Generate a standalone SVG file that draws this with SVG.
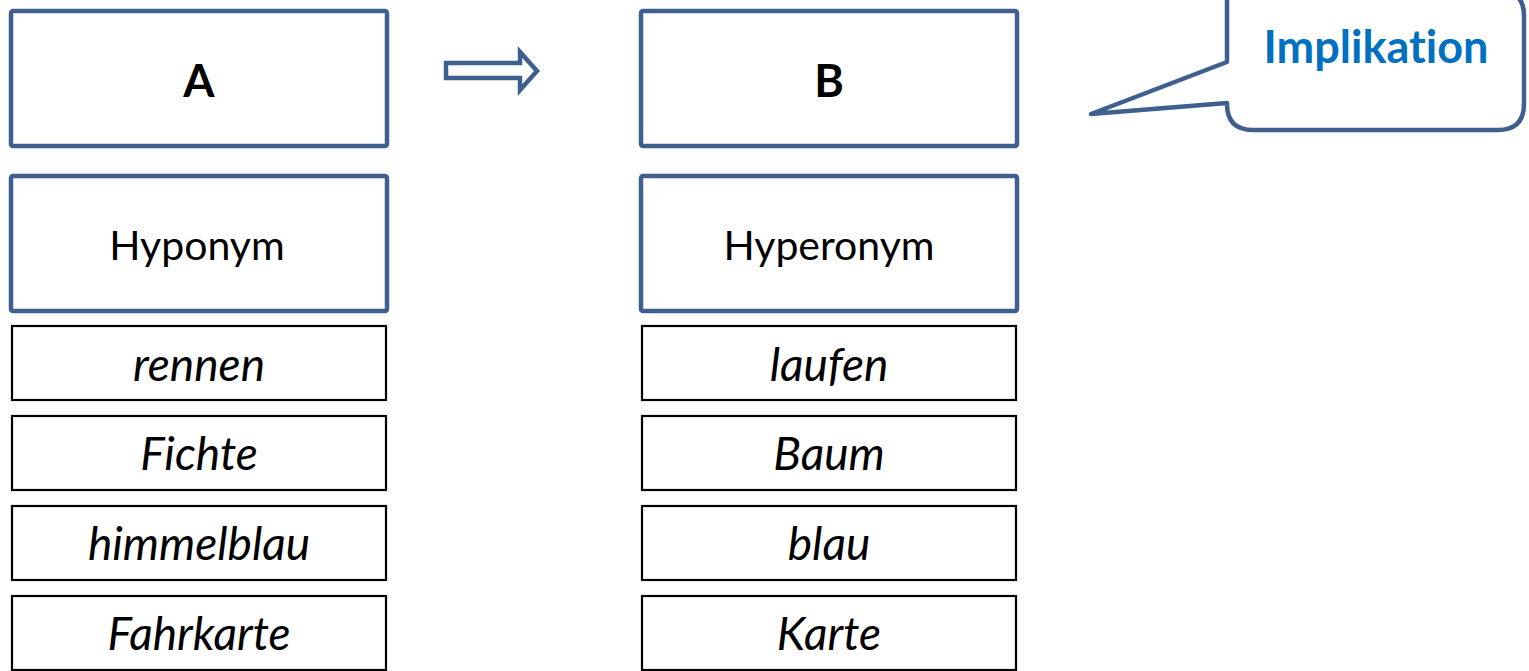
<svg xmlns="http://www.w3.org/2000/svg" width="1529" height="671" viewBox="0 0 1529 671">
  <style>
    .head { fill: #ffffff; stroke: #3f608e; stroke-width: 4.5; }
    .item { fill: #ffffff; stroke: #000000; stroke-width: 2.2; }
    text { font-family: Lato, "Liberation Sans", sans-serif; text-anchor: middle; fill: #000000; font-variant-ligatures: none; }
    .big { font-size: 45px; font-weight: bold; }
    .label { font-size: 41px; }
    .word { font-size: 46px; font-style: italic; }
    .note { font-size: 45px; font-weight: bold; fill: #0070c0; }
  </style>
  <rect width="1529" height="671" fill="#ffffff"/>

  <!-- left column -->
  <g id="node-a">
    <rect class="head" x="11" y="11" width="376" height="135" rx="2"/>
    <text class="big" x="199" y="97">A</text>
  </g>
  <g id="node-hyponym">
    <rect class="head" x="11" y="176" width="376" height="135" rx="2"/>
    <text class="label" x="197" y="260">Hyponym</text>
  </g>
  <g id="node-rennen">
    <rect class="item" x="12" y="326" width="374" height="74"/>
    <text class="word" x="199" y="381">rennen</text>
  </g>
  <g id="node-fichte">
    <rect class="item" x="12" y="416" width="374" height="74"/>
    <text class="word" x="199" y="470">Fichte</text>
  </g>
  <g id="node-himmelblau">
    <rect class="item" x="12" y="506" width="374" height="74"/>
    <text class="word" x="199" y="560">himmelblau</text>
  </g>
  <g id="node-fahrkarte">
    <rect class="item" x="12" y="596" width="374" height="74"/>
    <text class="word" x="199" y="650">Fahrkarte</text>
  </g>

  <!-- right column -->
  <g id="node-b">
    <rect class="head" x="641" y="11" width="376" height="135" rx="2"/>
    <text class="big" x="829" y="97">B</text>
  </g>
  <g id="node-hyperonym">
    <rect class="head" x="641" y="176" width="376" height="135" rx="2"/>
    <text class="label" x="829" y="260">Hyperonym</text>
  </g>
  <g id="node-laufen">
    <rect class="item" x="642" y="326" width="374" height="74"/>
    <text class="word" x="829" y="381">laufen</text>
  </g>
  <g id="node-baum">
    <rect class="item" x="642" y="416" width="374" height="74"/>
    <text class="word" x="829" y="470">Baum</text>
  </g>
  <g id="node-blau">
    <rect class="item" x="642" y="506" width="374" height="74"/>
    <text class="word" x="829" y="560">blau</text>
  </g>
  <g id="node-karte">
    <rect class="item" x="642" y="596" width="374" height="74"/>
    <text class="word" x="829" y="650">Karte</text>
  </g>

  <!-- callout -->
  <g id="node-implikation">
    <path class="head" stroke-linejoin="round" d="M1227,-10 L1498,-10 Q1524,-10 1524,16 L1524,104 Q1524,130 1498,130 L1253,130 Q1227,130 1227,104 L1227,103 L1091,114 L1227,62 Z"/>
    <text class="note" x="1376" y="63">Implikation</text>
  </g>

  <!-- connectors -->
  <g id="connectors">
    <path class="head" stroke-linejoin="miter" d="M446,63 L520,63 L520,52 L537,71 L520,90 L520,78 L446,78 Z"/>
  </g>
</svg>
